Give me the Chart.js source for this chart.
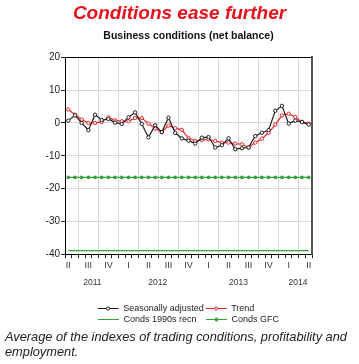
<!DOCTYPE html>
<html>
<head>
<meta charset="utf-8">
<script src="https://cdn.jsdelivr.net/npm/chart.js@4.4.1/dist/chart.umd.min.js"></script>
<style>
  body { margin: 0; background: #fff; }
  #wrap { position: relative; width: 359px; height: 364px; }
  #myChart { display: block; }
  #note {
    position: absolute; left: 5px; top: 330px;
    font: italic 12.8px 'Liberation Sans', Arial, sans-serif;
    line-height: 14.5px; color: #222; white-space: nowrap;
  }
</style>
</head>
<body>
<div id="wrap">
  <canvas id="myChart" width="359" height="334"></canvas>
  <div id="note">Average of the indexes of trading conditions, profitability and<br>employment.</div>
</div>
<script>
// monthly, Apr 2011 - Apr 2014
const months = [
  'Apr 2011', 'May 2011', 'Jun 2011', 'Jul 2011', 'Aug 2011', 'Sep 2011', 'Oct 2011', 'Nov 2011', 'Dec 2011',
  'Jan 2012', 'Feb 2012', 'Mar 2012', 'Apr 2012', 'May 2012', 'Jun 2012', 'Jul 2012', 'Aug 2012', 'Sep 2012',
  'Oct 2012', 'Nov 2012', 'Dec 2012', 'Jan 2013', 'Feb 2013', 'Mar 2013', 'Apr 2013', 'May 2013', 'Jun 2013',
  'Jul 2013', 'Aug 2013', 'Sep 2013', 'Oct 2013', 'Nov 2013', 'Dec 2013', 'Jan 2014', 'Feb 2014', 'Mar 2014',
  'Apr 2014'
];
const quarterLabels = ['II', 'III', 'IV', 'I', 'II', 'III', 'IV', 'I', 'II', 'III', 'IV', 'I', 'II'];
const years = ['2011', '2012', '2013', '2014'];
const yearTicks = [3.6, 13.4, 25.5, 34.4]; // where the year labels sit (month index)

const seasonallyAdjusted = [
  0.7, 2.3, 0.0, -2.2, 2.5, 0.9, 1.2, 0.1, -0.3, 1.7, 3.2, -0.3, -4.4, -0.7, -2.8, 1.6, -3.0, -4.7, -5.4,
  -6.3, -4.5, -4.3, -7.5, -6.8, -4.7, -8.0, -7.7, -7.5, -4.0, -3.0, -2.2, 3.7, 5.2, -0.2, 0.7, 0.3, -0.5
];
const trend = [
  4.1, 2.5, 1.0, 0.0, 0.0, 0.3, 1.7, 0.8, 0.5, 0.5, 1.5, 1.5, -0.2, -1.7, -2.8, -0.8, -1.6, -2.1, -4.6,
  -5.5, -5.2, -5.0, -5.5, -6.0, -6.0, -6.3, -6.5, -7.5, -6.0, -4.8, -3.0, -0.5, 2.3, 2.8, 1.8, 0.3, -0.2
];
const conds1990sRecn = [
  -38.9, -38.9, -38.9, -38.9, -38.9, -38.9, -38.9, -38.9, -38.9, -38.9, -38.9, -38.9, -38.9,
  -38.9, -38.9, -38.9, -38.9, -38.9, -38.9, -38.9, -38.9, -38.9, -38.9, -38.9, -38.9, -38.9,
  -38.9, -38.9, -38.9, -38.9, -38.9, -38.9, -38.9, -38.9, -38.9, -38.9, -38.9
];
const condsGFC = [
  -16.6, -16.6, -16.6, -16.6, -16.6, -16.6, -16.6, -16.6, -16.6, -16.6, -16.6, -16.6, -16.6,
  -16.6, -16.6, -16.6, -16.6, -16.6, -16.6, -16.6, -16.6, -16.6, -16.6, -16.6, -16.6, -16.6,
  -16.6, -16.6, -16.6, -16.6, -16.6, -16.6, -16.6, -16.6, -16.6, -16.6, -16.6
];

// trailing spaces keep the two legend rows lined up in columns
const legendText = ['Seasonally adjusted', 'Trend          ', 'Conds 1990s recn   ', 'Conds GFC'];

const BLACK = '#1e1e1e';
const RED = '#e8262a';
const GREEN = '#33a03a';
const GRID = '#d9d9d9';

Chart.defaults.font.family = "'Liberation Sans', Arial, sans-serif";
Chart.defaults.color = '#222';

// little marker in the middle of the legend line samples
const legendDots = {
  id: 'legendDots',
  afterDraw(chart) {
    const lg = chart.legend;
    const ctx = chart.ctx;
    lg.legendItems.forEach((item, i) => {
      const ds = chart.data.datasets[item.datasetIndex];
      if (!ds.pointRadius) return;
      const hb = lg.legendHitBoxes[i];
      ctx.save();
      ctx.beginPath();
      ctx.arc(hb.left + 10.5, hb.top + 4.5, 1.6, 0, Math.PI * 2);
      ctx.fillStyle = ds.pointBackgroundColor;
      ctx.strokeStyle = ds.borderColor;
      ctx.lineWidth = 1;
      ctx.fill();
      ctx.stroke();
      ctx.restore();
    });
  }
};

const ctx = document.getElementById('myChart');
new Chart(ctx, {
  type: 'line',
  data: {
    labels: months,
    datasets: [
      {
        label: 'Seasonally adjusted',
        data: seasonallyAdjusted,
        borderColor: BLACK,
        backgroundColor: BLACK,
        borderWidth: 1.2,
        pointRadius: 1.7,
        pointBorderWidth: 1,
        pointBackgroundColor: '#ffffff',
        pointBorderColor: BLACK
      },
      {
        label: 'Trend',
        data: trend,
        borderColor: RED,
        backgroundColor: RED,
        borderWidth: 1.2,
        pointRadius: 1.7,
        pointBorderWidth: 1,
        pointBackgroundColor: '#ffffff',
        pointBorderColor: RED
      },
      {
        label: 'Conds 1990s recn',
        data: conds1990sRecn,
        borderColor: GREEN,
        backgroundColor: GREEN,
        borderWidth: 1.2,
        pointRadius: 0
      },
      {
        label: 'Conds GFC',
        data: condsGFC,
        borderColor: GREEN,
        backgroundColor: GREEN,
        borderWidth: 1.2,
        pointRadius: 1.6,
        pointBorderWidth: 0.5,
        pointBackgroundColor: GREEN,
        pointBorderColor: GREEN
      }
    ]
  },
  options: {
    responsive: false,
    animation: false,
    devicePixelRatio: 1,
    layout: { padding: 0 },
    scales: {
      x: {
        type: 'category',
        position: 'bottom',
        offset: true,
        grid: {
          offset: true,
          z: -1,
          lineWidth: 1,
          color: (c) => (c.index % 3 === 2 ? GRID : 'rgba(0,0,0,0)'),
          tickColor: '#222',
          tickLength: 4
        },
        border: { color: '#000', width: 1 },
        ticks: {
          autoSkip: false,
          maxRotation: 0,
          padding: 2,
          font: { size: 9 },
          color: '#333',
          callback: (value, index) => (index % 3 === 0 ? quarterLabels[index / 3] : '')
        }
      },
      x3: {
        type: 'linear',
        position: 'bottom',
        min: -0.5,
        max: 36.5,
        grid: { display: false, drawTicks: false },
        border: { display: false },
        afterBuildTicks: (s) => { s.ticks = yearTicks.map(v => ({ value: v })); },
        ticks: {
          autoSkip: false,
          maxRotation: 0,
          padding: 4.8,
          font: { size: 8.5 },
          color: '#333',
          callback: (value, index) => years[index]
        }
      },
      x2: {
        type: 'category',
        position: 'top',
        offset: true,
        grid: { display: false, drawTicks: false },
        border: { color: '#000', width: 1 },
        ticks: { display: false }
      },
      y: {
        position: 'left',
        min: -40,
        max: 20,
        afterFit: (s) => { s.width = 65; },
        grid: { color: GRID, lineWidth: 1, z: -1, tickColor: '#222', tickLength: 4 },
        border: { color: '#000', width: 1 },
        ticks: { stepSize: 10, padding: 1, font: { size: 10 }, color: '#222' }
      },
      y2: {
        position: 'right',
        min: -40,
        max: 20,
        afterFit: (s) => { s.width = 47; },
        grid: { display: false, drawTicks: false },
        border: { color: '#555', width: 2 },
        ticks: { display: false }
      }
    },
    plugins: {
      title: {
        display: true,
        text: 'Conditions ease further',
        color: '#e8101a',
        font: { size: 19, weight: 'bold', style: 'italic' },
        padding: { top: 2, bottom: 2 }
      },
      subtitle: {
        display: true,
        fullSize: false,
        text: 'Business conditions (net balance)',
        color: '#111',
        font: { size: 10.5, weight: 'bold' },
        padding: { top: 2.6, bottom: 15.3 }
      },
      legend: {
        position: 'bottom',
        fullSize: false,
        align: 'center',
        title: { display: true, text: '', padding: { top: 8, bottom: 0 }, font: { size: 1 } },
        labels: {
          boxWidth: 21,
          boxHeight: 1,
          padding: 2,
          font: { size: 9 },
          color: '#222',
          generateLabels: (chart) =>
            Chart.defaults.plugins.legend.labels.generateLabels(chart).map(l => ({
              ...l,
              text: legendText[l.datasetIndex],
              fillStyle: l.strokeStyle,
              lineWidth: 0
            }))
        }
      },
      tooltip: { enabled: false }
    }
  },
  plugins: [legendDots]
});
</script>
</body>
</html>
